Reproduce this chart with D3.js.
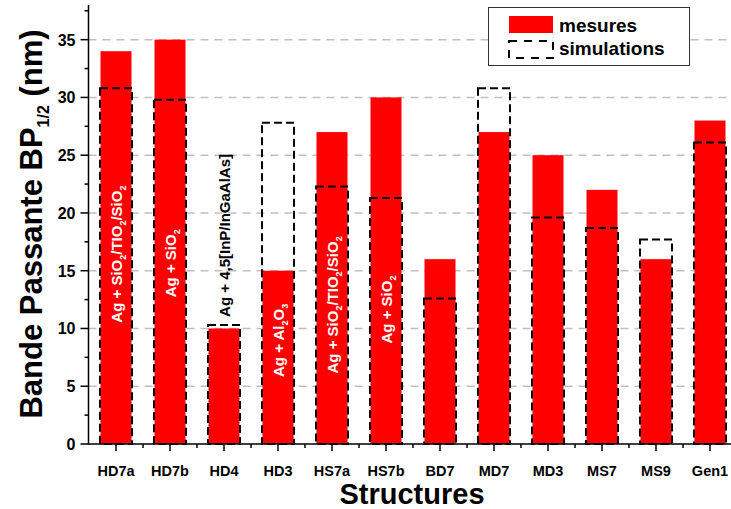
<!DOCTYPE html>
<html><head><meta charset="utf-8">
<script src="https://cdn.jsdelivr.net/npm/d3@7"></script>
<style>body{margin:0;background:#fff}svg{display:block;font-family:Arial,"Liberation Sans",sans-serif}</style>
</head><body><svg id="c" width="731" height="509"></svg>
<script>
const categories = ["HD7a","HD7b","HD4","HD3","HS7a","HS7b","BD7","MD7","MD3","MS7","MS9","Gen1"];
const mesures = [34,35,10,15,27,30,16,27,25,22,16,28];
const simulations = [30.8,29.8,10.3,27.8,22.3,21.3,12.6,30.8,19.6,18.7,17.7,26.1];
const yTicks = [0,5,10,15,20,25,30,35];
// bar annotations: [category index, parts [text, isSub], start value, colour]
const annotations = [
  {i:0, parts:[["Ag + SiO",0],["2",1],["/TIO",0],["2",1],["/SiO",0],["2",1]], start:10.5, color:"#fff"},
  {i:1, parts:[["Ag + SiO",0],["2",1]], start:12.7, color:"#fff"},
  {i:2, parts:[["Ag + 4,5[InP/InGaAlAs]",0]], start:11.0, color:"#000"},
  {i:3, parts:[["Ag + Al",0],["2",1],["O",0],["3",1]], start:5.8, color:"#fff"},
  {i:4, parts:[["Ag + SiO",0],["2",1],["/TIO",0],["2",1],["/SiO",0],["2",1]], start:6.1, color:"#fff"},
  {i:5, parts:[["Ag + SiO",0],["2",1]], start:8.7, color:"#fff"}
];

const svg = d3.select("#c");
const L = 88.5, B = 444, T = 5, R = 731;
const y = d3.scaleLinear().domain([0,38]).range([B, T]);
const x = d3.scaleLinear().domain([0.5,12.5]).range([89, 737]);
const bw = 31;

// grid
svg.append("g").selectAll("line").data(yTicks.filter(d=>d>0)).join("line")
  .attr("x1", L).attr("x2", R).attr("y1", d=>y(d)).attr("y2", d=>y(d))
  .attr("stroke","#c0c0c0").attr("stroke-width",1.5).attr("stroke-dasharray","8,6");

// red bars
svg.append("g").selectAll("rect").data(mesures).join("rect")
  .attr("x",(d,i)=>x(i+1)-bw/2).attr("width",bw)
  .attr("y",d=>y(d)).attr("height",d=>y(0)-y(d)).attr("fill","#ff0000");

// simulation outlines
svg.append("g").selectAll("rect").data(simulations).join("rect")
  .attr("x",(d,i)=>x(i+1)-bw/2-0.5).attr("width",bw+1)
  .attr("y",d=>y(d)).attr("height",d=>y(0)-y(d))
  .attr("fill","none").attr("stroke","#000").attr("stroke-width",2).attr("stroke-dasharray","8,4");

// annotations
annotations.forEach(a=>{
  const t = svg.append("text")
    .attr("transform",`translate(${x(a.i+1)+5.5},${y(a.start)}) rotate(-90)`)
    .attr("font-size",15).attr("font-weight","bold").attr("fill",a.color);
  a.parts.forEach(([s,sub])=>{
    if(sub) t.append("tspan").text(s).attr("font-size",9).attr("dy",4);
    else {
      const ts = t.append("tspan").text(s);
      if(t.selectAll("tspan").size()>1) ts.attr("dy",-4);
    }
  });
});

// y axis
const yAxis = svg.append("g").attr("transform",`translate(${L},0)`);
yAxis.append("line").attr("x1",0).attr("x2",0).attr("y1",T).attr("y2",B).attr("stroke","#000").attr("stroke-width",1.5);
const yMinor = d3.range(0,38,2.5);
yAxis.selectAll(".mt").data(yMinor).join("line").attr("class","mt")
  .attr("x1",d=>d%5===0?-8:-4).attr("x2",0).attr("y1",d=>y(d)).attr("y2",d=>y(d))
  .attr("stroke","#000").attr("stroke-width",1.5);
yAxis.selectAll("text").data(yTicks).join("text")
  .attr("x",-13).attr("y",d=>y(d)+6).attr("text-anchor","end")
  .attr("font-size",16).attr("font-weight","bold").text(d=>d);

// x axis
const xAxis = svg.append("g");
xAxis.append("line").attr("x1",L-0.75).attr("x2",R).attr("y1",B).attr("y2",B).attr("stroke","#000").attr("stroke-width",1.5);
xAxis.selectAll(".maj").data(categories).join("line").attr("class","maj")
  .attr("x1",(d,i)=>x(i+1)).attr("x2",(d,i)=>x(i+1)).attr("y1",B).attr("y2",B+7)
  .attr("stroke","#000").attr("stroke-width",1.5);
xAxis.selectAll(".min").data(d3.range(1.5,12.5,1)).join("line").attr("class","min")
  .attr("x1",d=>x(d)).attr("x2",d=>x(d)).attr("y1",B).attr("y2",B+4)
  .attr("stroke","#000").attr("stroke-width",1.5);
xAxis.selectAll("text").data(categories).join("text")
  .attr("x",(d,i)=>x(i+1)).attr("y",476).attr("text-anchor","middle")
  .attr("font-size",14.5).attr("font-weight","bold").text(d=>d);

// axis titles
svg.append("text").attr("x",412).attr("y",504).attr("text-anchor","middle")
  .attr("font-size",29).attr("font-weight","bold").text("Structures");
const yt = svg.append("text").attr("transform","translate(42,224) rotate(-90)")
  .attr("text-anchor","middle").attr("font-size",31).attr("font-weight","bold");
yt.append("tspan").text("Bande Passante BP");
yt.append("tspan").text("1/2").attr("font-size",16).attr("dy",7);
yt.append("tspan").text(" (nm)").attr("dy",-7);

// legend
const lg = svg.append("g");
lg.append("rect").attr("x",488.5).attr("y",7.5).attr("width",201).attr("height",58)
  .attr("fill","#fff").attr("stroke","#333").attr("stroke-width",1);
lg.append("rect").attr("x",509).attr("y",16).attr("width",44).attr("height",17).attr("fill","#ff0000");
lg.append("rect").attr("x",509).attr("y",41).attr("width",44).attr("height",17)
  .attr("fill","none").attr("stroke","#000").attr("stroke-width",2).attr("stroke-dasharray","8,7");
lg.append("text").attr("x",559).attr("y",32).attr("font-size",19).attr("font-weight","bold").text("mesures");
lg.append("text").attr("x",559).attr("y",55).attr("font-size",19).attr("font-weight","bold").text("simulations");
</script></body></html>
